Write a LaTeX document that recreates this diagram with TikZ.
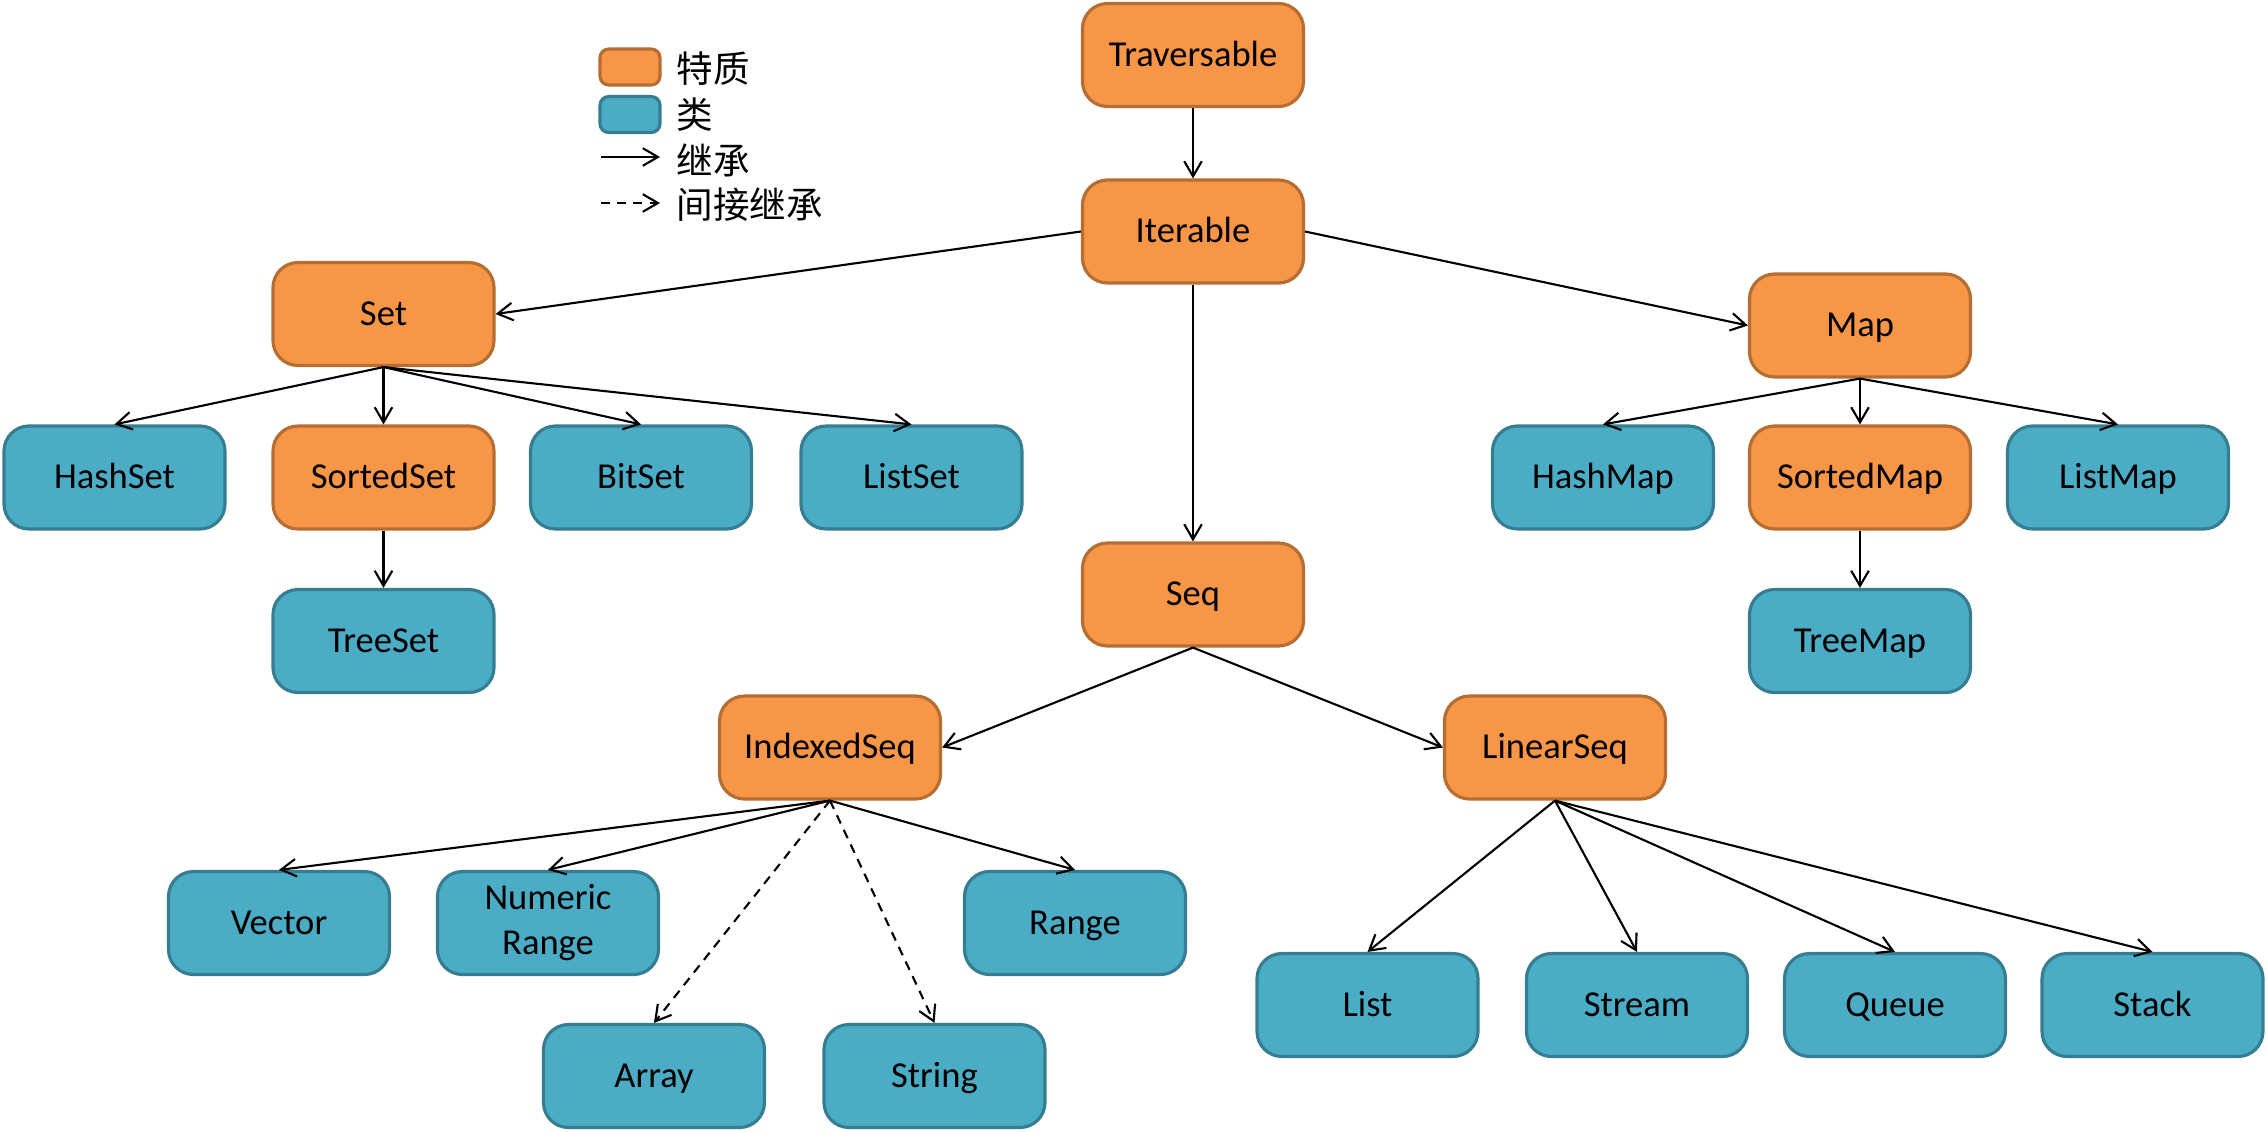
\documentclass[tikz,border=0pt]{standalone}
\usepackage{fontspec}
\setmainfont{Carlito}
\newfontfamily\cjk{Noto Sans CJK SC}
\usetikzlibrary{arrows.meta}
\definecolor{traitfill}{HTML}{F79646}
\definecolor{traitline}{HTML}{B66D31}
\definecolor{classfill}{HTML}{4BACC6}
\definecolor{classline}{HTML}{357D91}
\begin{document}
\begin{tikzpicture}
[boxdecorate/.style={shape=rectangle,rounded corners=0.25cm,line width=0.9pt,
   minimum width=2.21cm,minimum height=1.03cm,align=center,inner sep=0pt,
   font=\fontsize{10.4}{12.8}\selectfont},%
  onelinedecorate/.style={text height=7pt,text depth=0.5pt},%
  traitdecorate/.style={boxdecorate,fill=traitfill,draw=traitline},%
  classdecorate/.style={boxdecorate,fill=classfill,draw=classline},%
  keydecorate/.style={minimum width=0.6cm,minimum height=0.36cm,rounded corners=2.5pt},%
  keytext/.style={anchor=west,inner sep=0pt,font=\cjk\fontsize{10.4}{12}\selectfont},%
  linedecorate/.style={-{Straight Barb[length=4.3pt,width=5pt]},line width=0.6pt},%
  dashdecorate/.style={linedecorate,dash pattern=on 2.6pt off 2pt}]
\useasboundingbox (0,0) rectangle (22.68,-11.31);
%% legend
\node (traitkey) at (6.30,-0.67) [traitdecorate,keydecorate] {};
\node (classkey) at (6.30,-1.145) [classdecorate,keydecorate] {};
\coordinate (solidA) at (6.01,-1.57);
\coordinate (solidB) at (6.60,-1.57);
\coordinate (dashA) at (6.01,-2.03);
\coordinate (dashB) at (6.60,-2.03);
\draw[linedecorate] (solidA) -- (solidB);
\draw[dashdecorate] (dashA) -- (dashB);
\node (traitlabel) at (6.76,-0.69) [keytext] {特质};
\node (classlabel) at (6.76,-1.15) [keytext] {类};
\node (solidlabel) at (6.76,-1.60) [keytext] {继承};
\node (dashlabel) at (6.76,-2.05) [keytext] {间接继承};
%% traits
\foreach \nodename/\x/\y in {Traversable/11.93/-0.55, Iterable/11.93/-2.315,
  Set/3.835/-3.14, Map/18.60/-3.255, SortedSet/3.835/-4.775,
  SortedMap/18.60/-4.775, Seq/11.93/-5.945, IndexedSeq/8.30/-7.475,
  LinearSeq/15.55/-7.475} {
  \node (\nodename) at (\x,\y) [traitdecorate,onelinedecorate] {\nodename};
}
%% classes
\foreach \nodename/\x/\y in {HashSet/1.145/-4.775, BitSet/6.41/-4.775,
  ListSet/9.115/-4.775, TreeSet/3.835/-6.41, HashMap/16.03/-4.775,
  ListMap/21.18/-4.775, TreeMap/18.60/-6.41, Vector/2.79/-9.23,
  Range/10.75/-9.23, Array/6.54/-10.76, String/9.345/-10.76,
  List/13.675/-10.05, Stream/16.37/-10.05, Queue/18.95/-10.05,
  Stack/21.525/-10.05} {
  \node (\nodename) at (\x,\y) [classdecorate,onelinedecorate] {\nodename};
}
\node (NumericRange) at (5.48,-9.23) [classdecorate] {Numeric\\Range};
%% edges or lines
\path
\foreach \startnode/\endnode in {Traversable/Iterable, Iterable/Seq,
  Set/HashSet, Set/SortedSet, Set/BitSet, Set/ListSet, SortedSet/TreeSet,
  Map/HashMap, Map/SortedMap, Map/ListMap, SortedMap/TreeMap,
  IndexedSeq/Vector, IndexedSeq/NumericRange, IndexedSeq/Range,
  LinearSeq/List, LinearSeq/Stream, LinearSeq/Queue, LinearSeq/Stack} {
  (\startnode.south) edge[linedecorate] (\endnode.north)
}
(Iterable.west) edge[linedecorate] (Set.east)
(Iterable.east) edge[linedecorate] (Map.west)
(Seq.south) edge[linedecorate] (IndexedSeq.east)
(Seq.south) edge[linedecorate] (LinearSeq.west)
(IndexedSeq.south) edge[dashdecorate] (Array.north)
(IndexedSeq.south) edge[dashdecorate] (String.north);
\end{tikzpicture}
\end{document}
